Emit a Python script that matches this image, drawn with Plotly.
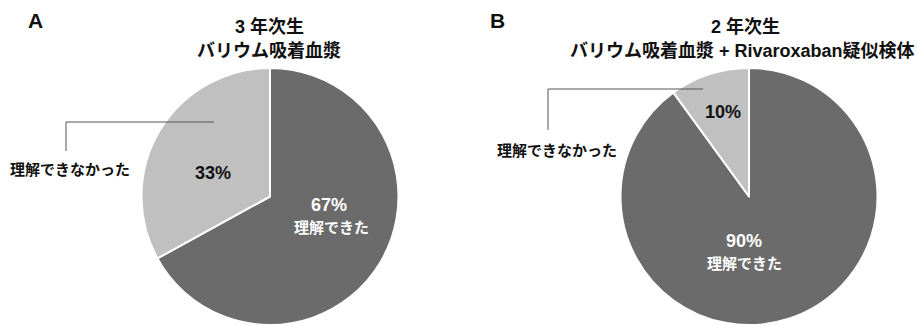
import plotly.graph_objects as go

W, H = 917, 325

categories = ["理解できた", "理解できなかった"]
values_a = [67, 33]
values_b = [90, 10]
pct_a = ["67%", "33%"]
pct_b = ["90%", "10%"]
title_a = ["3 年次生", "バリウム吸着血漿"]
title_b = ["2 年次生", "バリウム吸着血漿 + Rivaroxaban疑似検体"]
panel_letters = ["A", "B"]
colors = ["#6b6b6b", "#c0c0c0"]

FONT = "Liberation Sans, Noto Sans CJK JP"


def px(x):
    return x / W


def py(y):
    return 1 - y / H


fig = go.Figure()

for vals, cx in [(values_a, 270), (values_b, 749)]:
    fig.add_trace(go.Pie(
        labels=categories, values=vals, sort=False, direction="clockwise",
        rotation=0, textinfo="none", hoverinfo="label+percent",
        marker=dict(colors=colors, line=dict(color="white", width=2)),
        domain=dict(x=[px(cx - 145), px(cx + 145)], y=[0, py(68)]),
        showlegend=False,
    ))

ann = []


def text(x, y, s, size=15, color="#111", xanchor="center"):
    ann.append(dict(x=px(x), y=py(y), xref="paper", yref="paper", text=s,
                    showarrow=False, xanchor=xanchor, yanchor="middle",
                    font=dict(family=FONT, size=size, color=color, weight="bold")))


# panel letters
text(26, 20, panel_letters[0], size=21, xanchor="left")
text(488, 20, panel_letters[1], size=21, xanchor="left")

# titles
text(269, 27, title_a[0], size=18)
text(269, 51, title_a[1], size=18)
text(745, 27, title_b[0], size=18)
text(742, 51, title_b[1], size=18)

# slice labels A
text(213, 173, pct_a[1], size=18)
text(329, 205, pct_a[0], size=18, color="white")
text(331, 227, categories[0], size=15, color="white")
text(8, 169, categories[1], size=15, xanchor="left")

# slice labels B
text(723, 112, pct_b[1], size=18)
text(744, 241, pct_b[0], size=18, color="white")
text(744, 263, categories[0], size=15, color="white")
text(495, 150, categories[1], size=15, xanchor="left")

fig.update_layout(annotations=ann)

shapes = []
for pts in [[(214, 122), (66, 122), (66, 151)], [(703, 89), (548, 89), (548, 130)]]:
    path = "M " + " L ".join(f"{px(x)},{py(y)}" for x, y in pts)
    shapes.append(dict(type="path", xref="paper", yref="paper", path=path,
                       line=dict(color="#555", width=1)))
fig.update_layout(shapes=shapes)

fig.update_layout(width=W, height=H, margin=dict(l=0, r=0, t=0, b=0),
                  paper_bgcolor="white", plot_bgcolor="white",
                  font=dict(family=FONT))

fig.write_html("out.html")
